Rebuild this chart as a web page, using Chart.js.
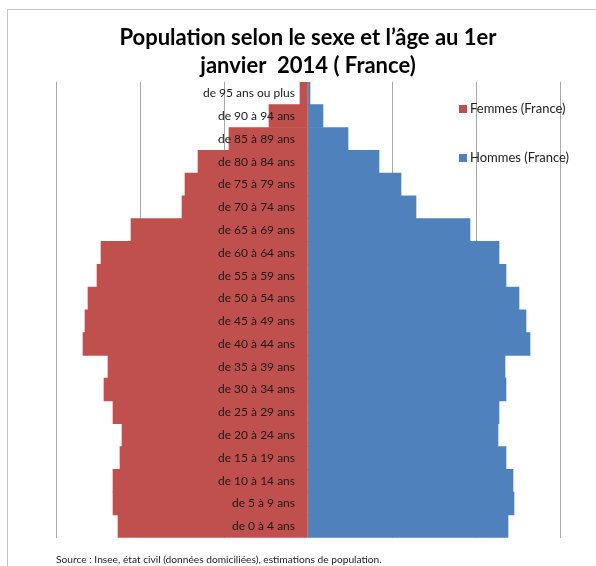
<!DOCTYPE html>
<html>
<head>
<meta charset="utf-8">
<script src="https://cdn.jsdelivr.net/npm/chart.js@4"></script>
<style>
  body { margin: 0; background: #fff; }
  #wrap { position: relative; width: 596px; height: 566px; }
  #frame { position: absolute; left: 7px; top: 9px; right: 0; bottom: 0;
           border-left: 1px solid #c4c4c4; border-top: 1px solid #c4c4c4; pointer-events: none; }
  .leg { position: absolute; left: 459px; font: 13px Lato, sans-serif; color: #222; white-space: nowrap; }
  .leg i { display: inline-block; width: 8px; height: 8px; margin-right: 3px; vertical-align: 0; }
</style>
</head>
<body>
<div id="wrap">
  <canvas id="pyramide" width="596" height="566"></canvas>
  <div id="frame"></div>
  <div class="leg" style="top:100px"><i style="background:#C0504D"></i>Femmes (France)</div>
  <div class="leg" style="top:149px"><i style="background:#4F81BD"></i>Hommes (France)</div>
</div>
<script>
// tranches d'âge, de la plus jeune à la plus âgée
const ages = [
  'de 0 à 4 ans', 'de 5 à 9 ans', 'de 10 à 14 ans', 'de 15 à 19 ans', 'de 20 à 24 ans',
  'de 25 à 29 ans', 'de 30 à 34 ans', 'de 35 à 39 ans', 'de 40 à 44 ans', 'de 45 à 49 ans',
  'de 50 à 54 ans', 'de 55 à 59 ans', 'de 60 à 64 ans', 'de 65 à 69 ans', 'de 70 à 74 ans',
  'de 75 à 79 ans', 'de 80 à 84 ans', 'de 85 à 89 ans', 'de 90 à 94 ans', 'de 95 ans ou plus'
];
// effectifs en milliers
const femmes = [1900, 1950, 1950, 1880, 1860, 1950, 2040, 2000, 2250, 2230,
                2200, 2110, 2070, 1770, 1260, 1230, 1100, 790, 390, 80];
const hommes = [2000, 2060, 2050, 1980, 1900, 1910, 1980, 1970, 2220, 2180,
                2110, 1980, 1910, 1620, 1080, 930, 710, 400, 150, 20];

const ctx = document.getElementById('pyramide');

new Chart(ctx, {
  type: 'bar',
  data: {
    labels: ages,
    datasets: [
      {
        label: 'Femmes (France)',
        data: femmes.map(v => -v),
        backgroundColor: '#C0504D'
      }, {
        label: 'Hommes (France)',
        data: hommes,
        backgroundColor: '#4F81BD'
      }]
  },
  options: {
    responsive: false,
    animation: false,
    indexAxis: 'y',
    barPercentage: 1,
    categoryPercentage: 1,
    layout: {
      padding: { left: 56, right: 36, top: 0, bottom: 0 }
    },
    scales: {
      x: {
        stacked: true,
        min: -2520,
        max: 2520,
        ticks: { display: false, stepSize: 840 },
        grid: { color: '#a8a8a8', drawTicks: false },
        border: { display: false }
      },
      y: {
        stacked: true,
        reverse: true,
        // labels just left of the centre line, on top of the bars
        position: { x: -130 },
        grid: { display: false, drawTicks: false },
        border: { display: false },
        ticks: {
          z: 1,
          autoSkip: false,
          color: '#1a1a1a',
          font: { family: 'Lato', size: 12 }
        }
      }
    },
    plugins: {
      legend: { display: false },
      tooltip: { enabled: false },
      title: {
        display: true,
        text: ['Population selon le sexe et l’âge au 1er', 'janvier  2014 ( France)'],
        color: '#000',
        font: { family: 'Lato', size: 22, weight: 'bold', lineHeight: 1.27 },
        padding: { top: 24, bottom: 2 }
      },
      subtitle: {
        display: true,
        position: 'bottom',
        align: 'start',
        text: 'Source : Insee, état civil (données domiciliées), estimations de population.',
        color: '#222',
        font: { family: 'Lato', size: 10.2 },
        padding: { top: 16, bottom: 0 }
      }
    }
  }
});
</script>
</body>
</html>
